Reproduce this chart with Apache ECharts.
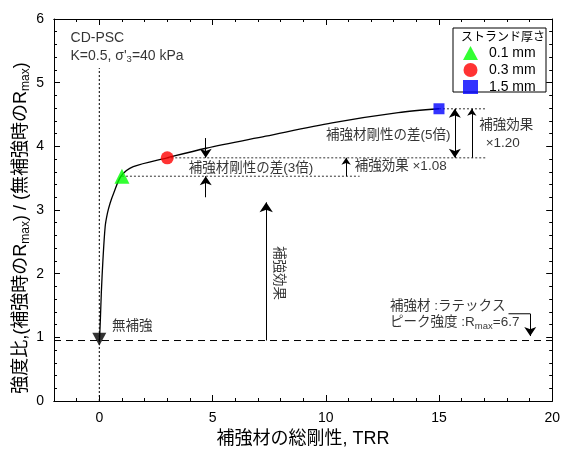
<!DOCTYPE html>
<html><head><meta charset="utf-8">
<script src="https://cdn.jsdelivr.net/npm/echarts@6/dist/echarts.min.js"></script>
<style>html,body{margin:0;padding:0;background:#fff}#c{width:563px;height:454px}</style>
</head><body><div id="c"></div>
<script>
// ---- data ----
const curveX = [0.0, 0.02, 0.05, 0.09, 0.16, 0.26, 0.36, 0.48, 0.63, 0.96, 1.5, 3.0, 4.72, 7.35, 10.28, 13.2, 15.0];
const curveY = [0.93, 1.05, 1.30, 1.70, 2.21, 2.74, 2.95, 3.11, 3.26, 3.53, 3.68, 3.82, 3.97, 4.16, 4.37, 4.53, 4.59];
const legendNames = ['0.1 mm', '0.3 mm', '1.5 mm'];
const pointsTRR = [1, 3, 15];
const pointsRatio = [3.53, 3.82, 4.59];
const unreinforced = 0.95;
const rmaxPeak = 6.7;
const xTickLabels = [0, 5, 10, 15, 20];
const yTickLabels = [0, 1, 2, 3, 4, 5, 6];

const FONT = '"Liberation Sans", Arial, "Noto Sans CJK JP", sans-serif';
const chart = echarts.init(document.getElementById('c'));

const sub = {fontSize: 9.5, padding: [7, 0, 0, 0], fontFamily: FONT, color: '#000'};
const annStyle = {fontSize: 13.5, fontFamily: FONT, color: '#000'};
const latStyle = {fontSize: 14, fontFamily: FONT, color: '#000'};

function txt(x, y, text, opts) {
  return {value: [x, y], label: Object.assign({show: true, formatter: text, position: 'inside', align: 'left', verticalAlign: 'middle', rich: {s: sub, n: annStyle, l: latStyle}}, annStyle, opts || {})};
}
function arrowLine(x1, y1, x2, y2, both, size, w) {
  return [{coord: [x1, y1], symbol: both ? 'arrow' : 'none', symbolSize: size, lineStyle: {width: w}},
          {coord: [x2, y2], symbol: 'arrow', symbolSize: size}];
}

const pointSymbols = ['triangle', 'circle', 'rect'];
const pointColors = ['#00ff00', '#ff0000', '#0000ff'];
const pointSizes = [15, 13, 11];

const baseAxisX = {type: 'value', min: -2, max: 20, gridIndex: 0, splitLine: {show: false},
  axisLine: {onZero: false, lineStyle: {color: '#000', width: 1}}};
const baseAxisY = {type: 'value', min: 0, max: 6, interval: 1, splitLine: {show: false},
  axisLine: {onZero: false, lineStyle: {color: '#000', width: 1}}};

const option = {
  animation: false,
  backgroundColor: '#fff',
  grid: {left: 54, right: 10, top: 19, bottom: 53},
  xAxis: [
    Object.assign({}, baseAxisX, {position: 'bottom', interval: 1,
      axisTick: {inside: true, length: 3, lineStyle: {color: '#000'}},
      axisLabel: {show: false},
      name: '補強材の総剛性, TRR', nameLocation: 'middle', nameGap: 29,
      nameTextStyle: {fontSize: 18, fontFamily: FONT, color: '#000'}}),
    Object.assign({}, baseAxisX, {position: 'bottom',
      axisTick: {inside: true, length: 6, customValues: xTickLabels, lineStyle: {color: '#000'}},
      axisLabel: {customValues: xTickLabels, fontSize: 14, fontFamily: FONT, color: '#000', margin: 10}}),
    Object.assign({}, baseAxisX, {position: 'top', interval: 1,
      axisTick: {inside: true, length: 3, lineStyle: {color: '#000'}}, axisLabel: {show: false}}),
    Object.assign({}, baseAxisX, {position: 'top',
      axisTick: {inside: true, length: 6, customValues: xTickLabels, lineStyle: {color: '#000'}}, axisLabel: {show: false}})
  ],
  yAxis: [
    Object.assign({}, baseAxisY, {position: 'left',
      axisTick: {inside: true, length: 6, lineStyle: {color: '#000'}},
      minorTick: {show: true, splitNumber: 5, length: 3, lineStyle: {color: '#000'}},
      axisLabel: {fontSize: 14, fontFamily: FONT, color: '#000', margin: 10,
        formatter: v => yTickLabels.indexOf(v) >= 0 ? String(v) : ''}}),
    Object.assign({}, baseAxisY, {position: 'right',
      axisTick: {inside: true, length: 6, lineStyle: {color: '#000'}},
      minorTick: {show: true, splitNumber: 5, length: 3, lineStyle: {color: '#000'}},
      axisLabel: {show: false}})
  ],
  legend: {
    data: legendNames.map((n, i) => ({name: n, icon: pointSymbols[i]})),
    orient: 'vertical', left: 463, top: 46, padding: 0, itemGap: 3, itemWidth: 15, itemHeight: 14, z: 20,
    textStyle: {fontSize: 14, fontFamily: FONT, color: '#000', padding: [0, 0, 0, 6]}
  },
  graphic: [
    {type: 'rect', shape: {x: 453, y: 28, width: 93, height: 64}, style: {fill: '#fff', stroke: '#000', lineWidth: 1}, z: 3},
    {type: 'text', x: 461, y: 32, style: {text: 'ストランド厚さ', fontSize: 12, fontFamily: FONT, fill: '#000'}, z: 21},
    {type: 'text', x: 21, y: 228, rotation: Math.PI / 2, z: 21,
      style: {text: '{n|強度比,(補強時の}{n|R}{s|max}{n|) / (無補強時の}{n|R}{s|max}{n|)}', align: 'center', verticalAlign: 'middle',
        rich: {n: {fontSize: 18, fontFamily: FONT, fill: '#000'}, s: {fontSize: 12, padding: [9, 0, 0, 0], fontFamily: FONT, fill: '#000'}}}}
  ],
  series: [
    // dotted vertical at x=0
    {type: 'line', data: [[0, 0], [0, 5.23]], symbol: 'none', lineStyle: {color: '#000', width: 1, type: [2, 2]}, silent: true},
    // unreinforced dashed level
    {type: 'line', data: [[-2, unreinforced], [20, unreinforced]], symbol: 'none', lineStyle: {color: '#000', width: 1, type: [7, 5]}, silent: true},
    // dotted reference levels
    {type: 'line', data: [[pointsTRR[0], pointsRatio[0]], [11.5, pointsRatio[0]]], symbol: 'none', lineStyle: {color: '#555', width: 1.2, type: [2, 2]}},
    {type: 'line', data: [[pointsTRR[1], pointsRatio[1]], [17.1, pointsRatio[1]]], symbol: 'none', lineStyle: {color: '#555', width: 1.2, type: [2, 2]}},
    {type: 'line', data: [[pointsTRR[2], pointsRatio[2]], [17.1, pointsRatio[2]]], symbol: 'none', lineStyle: {color: '#555', width: 1.2, type: [2, 2]}},
    // curve
    {type: 'line', data: curveX.map((x, i) => [x, curveY[i]]), smooth: 0.3, symbol: 'none', lineStyle: {color: '#000', width: 1.3}, z: 3},
    // arrow to unreinforced point
    {type: 'scatter', data: [[0, unreinforced + 0.02]], symbol: 'triangle', symbolRotate: 180, symbolSize: [14, 13], itemStyle: {color: '#000'}, z: 5},
    // arrows
    {type: 'line', data: [], symbol: 'none', markLine: {silent: true, animation: false, label: {show: false},
      lineStyle: {color: '#000', width: 1, type: 'solid'}, symbolSize: 9,
      data: [
        arrowLine(4.7, 4.13, 4.7, pointsRatio[1], false, 9, 1),
        arrowLine(4.7, 3.20, 4.7, pointsRatio[0], false, 9, 1),
        arrowLine(10.9, pointsRatio[0], 10.9, pointsRatio[1], false, 7, 1),
        arrowLine(15.7, pointsRatio[1], 15.7, pointsRatio[2], true, 9, 1),
        arrowLine(16.45, pointsRatio[1], 16.45, pointsRatio[2], false, 7, 1),
        arrowLine(7.37, unreinforced, 7.37, 3.12, false, 10, 1),
        arrowLine(19.03, 1.37, 19.03, 1.02, false, 9, 1)
      ]}},
    {type: 'line', data: [[18.07, 1.37], [19.03, 1.37]], symbol: 'none', lineStyle: {color: '#000', width: 1}},
    // points
    ...legendNames.map((n, i) => ({type: 'scatter', name: n, data: [[pointsTRR[i], pointsRatio[i]]],
      symbol: pointSymbols[i], symbolSize: pointSizes[i], itemStyle: {color: pointColors[i]}, z: 6})),
    // annotations
    {type: 'scatter', symbolSize: 0, silent: true, z: 7, data: [
      txt(-1.27, 5.70, '{l|CD-PSC}'),
      txt(-1.27, 5.42, "{l|K=0.5, σ'}{s|3}{l|=40 kPa}"),
      txt(6.7, 3.66, '{n|補強材剛性の差(3倍)}', {align: 'center'}),
      txt(11.28, 3.68, '{n|補強効果 ×1.08}'),
      txt(12.76, 4.18, '{n|補強材剛性の差(5倍)}', {align: 'center'}),
      txt(16.78, 4.33, '{n|補強効果}'),
      txt(17.06, 4.05, '{n|×1.20}'),
      txt(7.94, 2.01, '{n|補強効果}', {align: 'center', rotate: -90}),
      txt(0.56, 1.17, '{n|無補強}'),
      txt(12.84, 1.48, '{n|補強材 :ラテックス}'),
      txt(12.84, 1.23, '{n|ピーク強度 :R}{s|max}{n|=' + rmaxPeak + '}')
    ]}
  ]
};
chart.setOption(option);
</script>
</body></html>
